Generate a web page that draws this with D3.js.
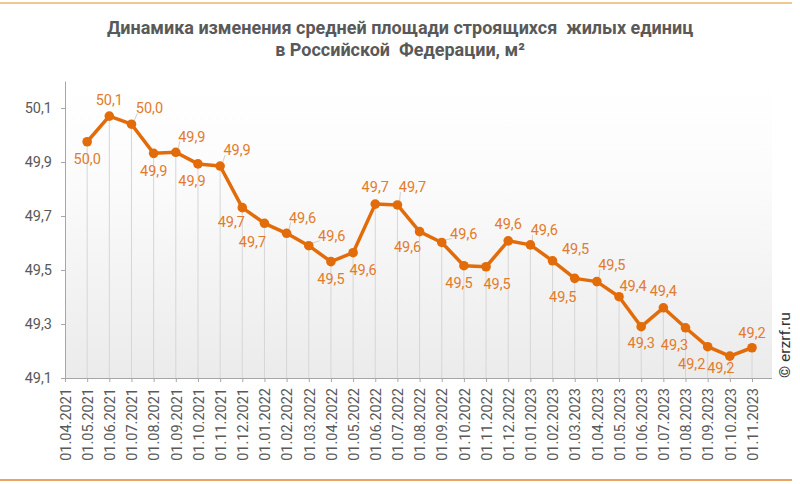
<!DOCTYPE html>
<html><head><meta charset="utf-8">
<script src="https://cdn.jsdelivr.net/npm/d3@7/dist/d3.min.js"></script>
<style>
html,body{margin:0;padding:0;background:#fff;}
svg{display:block;font-family:Roboto,"Noto Sans",sans-serif;}
</style></head>
<body>
<svg id="chart" width="800" height="484"></svg>
<script>
const categories = ["01.04.2021","01.05.2021","01.06.2021","01.07.2021","01.08.2021","01.09.2021","01.10.2021","01.11.2021","01.12.2021",
"01.01.2022","01.02.2022","01.03.2022","01.04.2022","01.05.2022","01.06.2022","01.07.2022","01.08.2022","01.09.2022","01.10.2022","01.11.2022","01.12.2022",
"01.01.2023","01.02.2023","01.03.2023","01.04.2023","01.05.2023","01.06.2023","01.07.2023","01.08.2023","01.09.2023","01.10.2023","01.11.2023"];
const values = [null, 49.975, 50.07, 50.04, 49.932, 49.936, 49.893, 49.885, 49.731, 49.673, 49.636, 49.59, 49.531, 49.564, 49.744, 49.741,
49.642, 49.602, 49.516, 49.512, 49.608, 49.593, 49.534, 49.469, 49.457, 49.401, 49.29, 49.36, 49.286, 49.216, 49.181, 49.212];
const yTicks = [49.1, 49.3, 49.5, 49.7, 49.9, 50.1];
const titleLines = ["Динамика изменения средней площади строящихся  жилых единиц", "в Российской  Федерации, м²"];
const copyright = "© erzrf.ru";

// label placement (layout): [dx, dy, leader]
const labelLayout = [null,
[0,17,0],[0,-16,0],[18,-16,1],[0,17,0],[16,-16,1],[-6,17,0],[17,-16,1],[-11,14,0],[-12,18,0],[16,-16,1],
[23,-10,1],[0,17,0],[10,17,0],[0,-17,0],[15,-18,1],[-12,15,0],[22,-9,1],[-5,17,0],[11,17,0],[0,-17,0],
[14,-15,1],[23,-12,0],[-12,18,0],[15,-17,1],[14,-11,0],[0,16,0],[0,-17,0],[-11,17,0],[-16,17,0],[-9,12,0],[0,-15,0]];

(function(){
const svg = d3.select("#chart");
const pl = 65, pr = 772, pb = 378, pt = 81;
const x = d3.scalePoint().domain(categories).range([pl, 752]);
const y = d3.scaleLinear().domain([49.1, 50.2]).range([pb, pt]);
const fmt = v => d3.format(".1f")(v).replace(".", ",");

const defs = svg.append("defs");
const grad = defs.append("linearGradient").attr("id","bg").attr("x1",0).attr("y1",0).attr("x2",0).attr("y2",1);
grad.append("stop").attr("offset","0%").attr("stop-color","#ffffff");
grad.append("stop").attr("offset","35%").attr("stop-color","#fbfbfb");
grad.append("stop").attr("offset","100%").attr("stop-color","#ebebeb");

svg.append("line").attr("x1",0).attr("x2",792).attr("y1",3).attr("y2",3).attr("stroke","#f2c892").attr("stroke-width",2);
svg.append("line").attr("x1",0).attr("x2",792).attr("y1",480).attr("y2",480).attr("stroke","#e8a462").attr("stroke-width",2);

const title = svg.append("text").attr("text-anchor","middle").attr("fill","#595959")
  .attr("font-weight","bold").attr("font-size",18).style("white-space","pre");
titleLines.forEach((t,i)=> title.append("tspan").attr("x",400).attr("y",34 + i*22).text(t));

svg.append("rect").attr("x",pl).attr("y",pt).attr("width",pr-pl).attr("height",pb-pt).attr("fill","url(#bg)");

const pts = categories.map((c,i)=>({c, v: values[i], i})).filter(d=>d.v!==null);

svg.append("g").selectAll("line").data(pts).join("line")
  .attr("x1",d=>x(d.c)).attr("x2",d=>x(d.c)).attr("y1",d=>y(d.v)).attr("y2",pb)
  .attr("stroke","#d6d6d6").attr("stroke-width",1);

const yAxis = svg.append("g").attr("transform",`translate(${pl},0)`)
  .call(d3.axisLeft(y).tickValues(yTicks).tickFormat(fmt).tickSize(4).tickSizeOuter(0).tickPadding(9));
yAxis.select(".domain").attr("stroke","#a6a6a6");
yAxis.selectAll(".tick line").attr("stroke","#a6a6a6");
yAxis.selectAll(".tick text").attr("fill","#595959").attr("font-size",14.5).attr("font-family","Roboto");

const xAxis = svg.append("g").attr("transform",`translate(0,${pb})`)
  .call(d3.axisBottom(x).tickSize(4).tickSizeOuter(0));
xAxis.select(".domain").attr("d",`M${pl},0.5H${pr}`).attr("stroke","#a6a6a6");
xAxis.selectAll(".tick line").attr("stroke","#a6a6a6");
xAxis.selectAll(".tick text").attr("fill","#595959").attr("font-size",14.5).attr("font-family","Roboto")
  .attr("transform","rotate(-90)").attr("text-anchor","end").attr("x",-10).attr("y",0).attr("dy","0.36em");

svg.append("g").selectAll("line").data(pts.filter(d=>labelLayout[d.i][2])).join("line")
  .attr("x1",d=>x(d.c)+2).attr("y1",d=>y(d.v)-2)
  .attr("x2",d=>x(d.c)+labelLayout[d.i][0]-12).attr("y2",d=>y(d.v)+labelLayout[d.i][1]+5)
  .attr("stroke","#d0d0d0").attr("stroke-width",1);

const lineColor = "#e36c0a";
svg.append("path").datum(pts).attr("fill","none").attr("stroke",lineColor).attr("stroke-width",3.5)
  .attr("stroke-linejoin","round")
  .attr("d", d3.line().x(d=>x(d.c)).y(d=>y(d.v)));
svg.append("g").selectAll("circle").data(pts).join("circle")
  .attr("cx",d=>x(d.c)).attr("cy",d=>y(d.v)).attr("r",4.8).attr("fill",lineColor);

svg.append("g").selectAll("text").data(pts).join("text")
  .attr("x",d=>x(d.c)+labelLayout[d.i][0]).attr("y",d=>y(d.v)+labelLayout[d.i][1])
  .attr("dy","0.36em").attr("text-anchor","middle").attr("font-size",14.5).attr("fill","#e37b2c")
  .text(d=>fmt(d.v));

svg.append("text").attr("transform","translate(790,378) rotate(-90)").attr("font-size",15.5)
  .attr("fill","#333").text(copyright);
})();
</script>
</body></html>
